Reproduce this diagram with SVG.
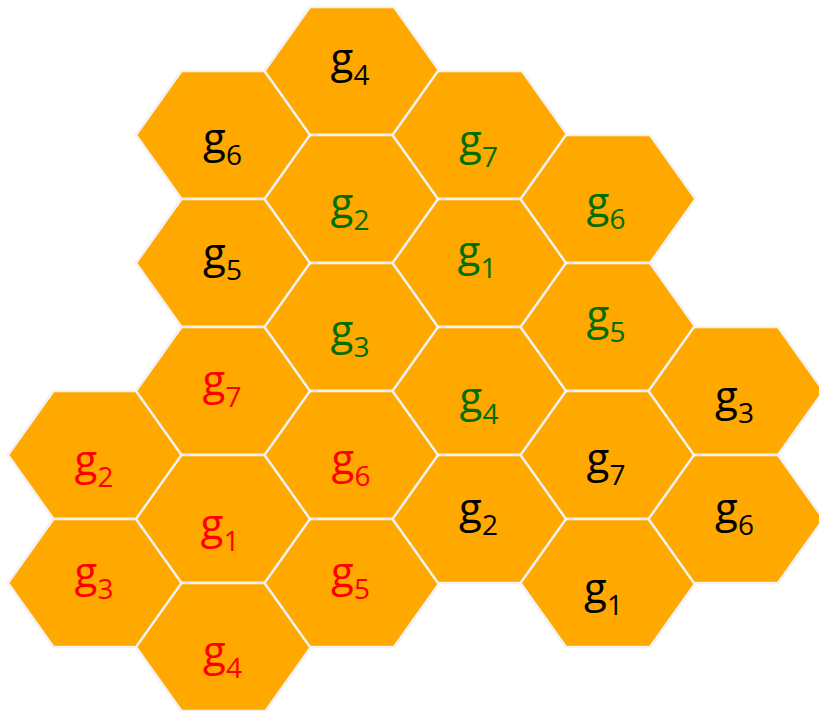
<svg xmlns="http://www.w3.org/2000/svg" xmlns:xlink="http://www.w3.org/1999/xlink" width="819" height="711" viewBox="0 0 819 711">
<style>
.hex{fill:#FFA800;stroke:#F2F2F2;stroke-width:2.5;stroke-linejoin:round}
.lb{font-family:"Open Sans","Noto Sans",sans-serif;font-size:42px;text-anchor:middle}
.sb{font-size:28px}
.k{fill:#000000}
.r{fill:#FF0000}
.g{fill:#006E00}
</style>
<defs>
<polygon id="hx" points="-87.5,0 -42,-64 42,-64 87.5,0 42,64 -42,64"/>
</defs>
<rect width="819" height="711" fill="#FFFFFF"/>
<g id="n1"><use href="#hx" class="hex" x="95.5" y="455"/><text class="lb r" x="94" y="474.5">g<tspan class="sb" dy="12">2</tspan></text></g>
<g id="n2"><use href="#hx" class="hex" x="95.5" y="583"/><text class="lb r" x="94" y="586.5">g<tspan class="sb" dy="12">3</tspan></text></g>
<g id="n3"><use href="#hx" class="hex" x="223.5" y="135"/><text class="lb k" x="222.5" y="152.5">g<tspan class="sb" dy="12">6</tspan></text></g>
<g id="n4"><use href="#hx" class="hex" x="223.5" y="263"/><text class="lb k" x="222.5" y="267.5">g<tspan class="sb" dy="12">5</tspan></text></g>
<g id="n5"><use href="#hx" class="hex" x="223.5" y="391"/><text class="lb r" x="222" y="394.5">g<tspan class="sb" dy="12">7</tspan></text></g>
<g id="n6"><use href="#hx" class="hex" x="223.5" y="519"/><text class="lb r" x="220" y="538.5">g<tspan class="sb" dy="12">1</tspan></text></g>
<g id="n7"><use href="#hx" class="hex" x="223.5" y="647"/><text class="lb r" x="222.5" y="665.5">g<tspan class="sb" dy="12">4</tspan></text></g>
<g id="n8"><use href="#hx" class="hex" x="352" y="71"/><text class="lb k" x="350" y="72.5">g<tspan class="sb" dy="12">4</tspan></text></g>
<g id="n9"><use href="#hx" class="hex" x="352" y="199"/><text class="lb g" x="350" y="217.5">g<tspan class="sb" dy="12">2</tspan></text></g>
<g id="n10"><use href="#hx" class="hex" x="352" y="327"/><text class="lb g" x="350" y="344.5">g<tspan class="sb" dy="12">3</tspan></text></g>
<g id="n11"><use href="#hx" class="hex" x="352" y="455"/><text class="lb r" x="351" y="474">g<tspan class="sb" dy="12">6</tspan></text></g>
<g id="n12"><use href="#hx" class="hex" x="352" y="583"/><text class="lb r" x="350.5" y="586.5">g<tspan class="sb" dy="12">5</tspan></text></g>
<g id="n13"><use href="#hx" class="hex" x="480" y="135"/><text class="lb g" x="478.5" y="154.5">g<tspan class="sb" dy="12">7</tspan></text></g>
<g id="n14"><use href="#hx" class="hex" x="480" y="263"/><text class="lb g" x="477" y="266">g<tspan class="sb" dy="12">1</tspan></text></g>
<g id="n15"><use href="#hx" class="hex" x="480" y="391"/><text class="lb g" x="479" y="411.5">g<tspan class="sb" dy="12">4</tspan></text></g>
<g id="n16"><use href="#hx" class="hex" x="480" y="519"/><text class="lb k" x="478.5" y="523">g<tspan class="sb" dy="12">2</tspan></text></g>
<g id="n17"><use href="#hx" class="hex" x="608" y="199"/><text class="lb g" x="606" y="216.5">g<tspan class="sb" dy="12">6</tspan></text></g>
<g id="n18"><use href="#hx" class="hex" x="608" y="327"/><text class="lb g" x="606" y="329.5">g<tspan class="sb" dy="12">5</tspan></text></g>
<g id="n19"><use href="#hx" class="hex" x="608" y="455"/><text class="lb k" x="606" y="472.5">g<tspan class="sb" dy="12">7</tspan></text></g>
<g id="n20"><use href="#hx" class="hex" x="608" y="583"/><text class="lb k" x="603.5" y="602.5">g<tspan class="sb" dy="12">1</tspan></text></g>
<g id="n21"><use href="#hx" class="hex" x="736" y="391"/><text class="lb k" x="734.5" y="411">g<tspan class="sb" dy="12">3</tspan></text></g>
<g id="n22"><use href="#hx" class="hex" x="736" y="519"/><text class="lb k" x="734.5" y="522.5">g<tspan class="sb" dy="12">6</tspan></text></g>
</svg>
